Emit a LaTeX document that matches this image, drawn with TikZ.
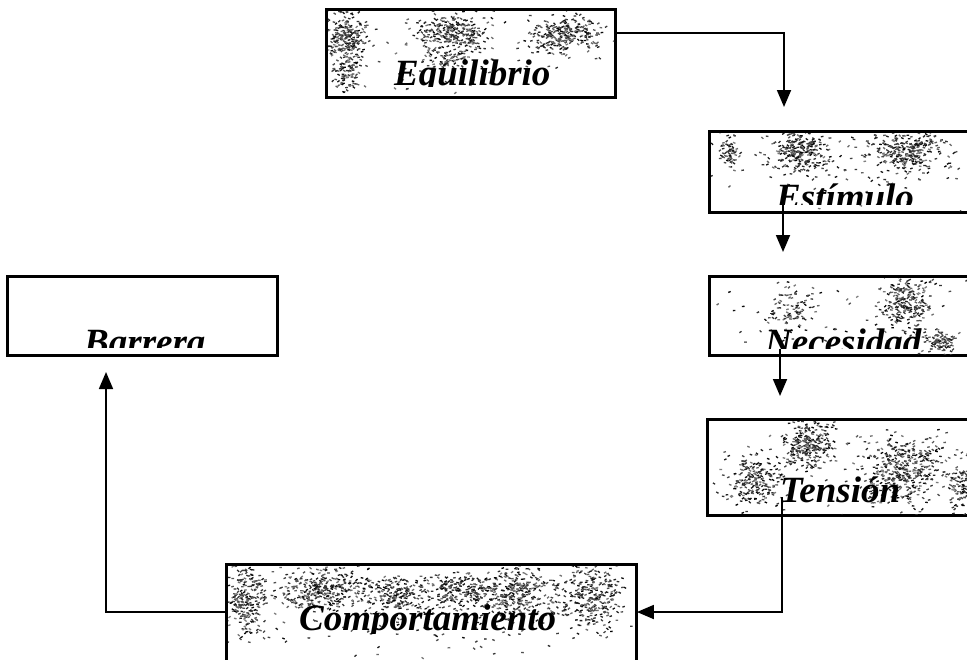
\documentclass[tikz,border=0pt]{standalone}
\usepackage{fontspec}
\setmainfont{Liberation Serif}
\usetikzlibrary{arrows.meta}

% scattered print speckle: centre x, centre y, spread x, spread y, count
\newcommand\specks[5]{%
  \foreach \k in {1,...,#5}{%
    \pgfmathsetmacro\sx{#1+#3*(rand+rand+rand)/1.5}%
    \pgfmathsetmacro\sy{#2+#4*(rand+rand+rand)/1.5}%
    \pgfmathsetmacro\sg{75+25*rand}%
    \pgfmathsetmacro\sa{45*rand}%
    \fill[black!\sg, rotate around={\sa:(\sx,\sy)}] (\sx,\sy) rectangle ++(2.6,1.3);
  }}

\begin{document}
\begin{tikzpicture}[x=1pt,y=-1pt,
  box/.style={draw=black, line width=1.8pt, fill=white, rectangle, inner sep=0pt},
  label/.style={anchor=base west, inner sep=0pt,
    font=\fontsize{37}{40}\selectfont\bfseries\itshape},
  conn/.style={line width=1.8pt, draw=black},
  flow/.style={conn, -{Triangle[length=17pt,width=14pt]}}]
\pgfmathsetseed{7}
\useasboundingbox[fill=white] (0,0) rectangle (967,659);

% ---- boxes ----
\node[box, minimum width=288pt, minimum height=87pt] (eq)  at (471,53.5) {};
\node[box, minimum width=280pt, minimum height=80pt] (est) at (850,172) {};
\node[box, minimum width=280pt, minimum height=78pt] (nec) at (850,316) {};
\node[box, minimum width=282pt, minimum height=95pt] (ten) at (849,467.5) {};
\node[box, minimum width=409pt, minimum height=115pt] (com) at (431.5,622.5) {};
\node[box, minimum width=269pt, minimum height=78pt] (bar) at (142.5,316) {};

% ---- speckle texture inside the boxes ----
\begin{scope}
  \clip (328,11) rectangle (614,96);
  \specks{345}{35}{14}{20}{220}
  \specks{345}{72}{10}{12}{80}
  \specks{452}{34}{26}{14}{260}
  \specks{445}{58}{14}{8}{60}
  \specks{565}{34}{26}{14}{250}
  \specks{470}{50}{130}{40}{90}
\end{scope}
\begin{scope}
  \clip (711,133) rectangle (967,211);
  \specks{728}{150}{8}{12}{60}
  \specks{800}{150}{22}{15}{240}
  \specks{905}{150}{28}{15}{280}
  \specks{850}{170}{110}{30}{90}
\end{scope}
\begin{scope}
  \clip (711,278) rectangle (967,354);
  \specks{790}{308}{18}{18}{90}
  \specks{905}{302}{18}{20}{220}
  \specks{940}{342}{12}{8}{90}
  \specks{850}{315}{110}{30}{60}
\end{scope}
\begin{scope}
  \clip (709,421) rectangle (967,514);
  \specks{808}{445}{18}{18}{240}
  \specks{905}{470}{30}{25}{380}
  \specks{752}{480}{22}{18}{210}
  \specks{960}{488}{10}{15}{90}
  \specks{850}{465}{110}{40}{90}
\end{scope}
\begin{scope}
  \clip (228,566) rectangle (635,659);
  \specks{245}{598}{12}{26}{220}
  \specks{320}{590}{38}{15}{340}
  \specks{395}{596}{22}{14}{170}
  \specks{455}{590}{25}{14}{190}
  \specks{515}{594}{30}{20}{320}
  \specks{592}{594}{22}{24}{270}
  \specks{430}{615}{190}{40}{120}
\end{scope}

% ---- labels, cut off along their lower edge ----
\begin{scope}
  \clip (328,11) rectangle (614,86);
  \node[label] (teq) at (394,85) {Equilibrio};
\end{scope}
\begin{scope}
  \clip (711,133) rectangle (967,204);
  \node[label] (test) at (776,209) {Estímulo};
\end{scope}
\begin{scope}
  \clip (711,278) rectangle (967,348);
  \node[label] (tnec) at (765,354) {Necesidad};
\end{scope}
\begin{scope}
  \clip (709,421) rectangle (967,514);
  \node[label] (tten) at (780,502) {Tensión};
\end{scope}
\begin{scope}
  \clip (228,566) rectangle (635,633);
  \node[label] (tcom) at (299,630) {Comportamiento};
\end{scope}
\begin{scope}
  \clip (9,278) rectangle (276,347);
  \node[label] (tbar) at (84,354) {Barrera};
\end{scope}

% redraw borders above the texture
\foreach \b in {eq,est,nec,ten,com,bar}
  \draw[line width=1.8pt] (\b.south west) rectangle (\b.north east);

% ---- connectors ----
\coordinate (k1) at (784,33);
\coordinate (t1) at (784,107);
\draw[flow] (eq.east |- k1) -- (k1) -- (t1);

\coordinate (s2) at (783,205);
\coordinate (t2) at (783,252);
\draw[flow] (s2) -- (t2);

\coordinate (s3) at (780,349);
\coordinate (t3) at (780,396);
\draw[flow] (s3) -- (t3);

\coordinate (s4) at (782,497);
\coordinate (k4) at (782,612);
\draw[flow] (s4) -- (k4) -- (com.east |- k4);

\coordinate (k5) at (106,612);
\coordinate (t5) at (106,372);
\draw[flow] (com.west |- k5) -- (k5) -- (t5);
\end{tikzpicture}
\end{document}
